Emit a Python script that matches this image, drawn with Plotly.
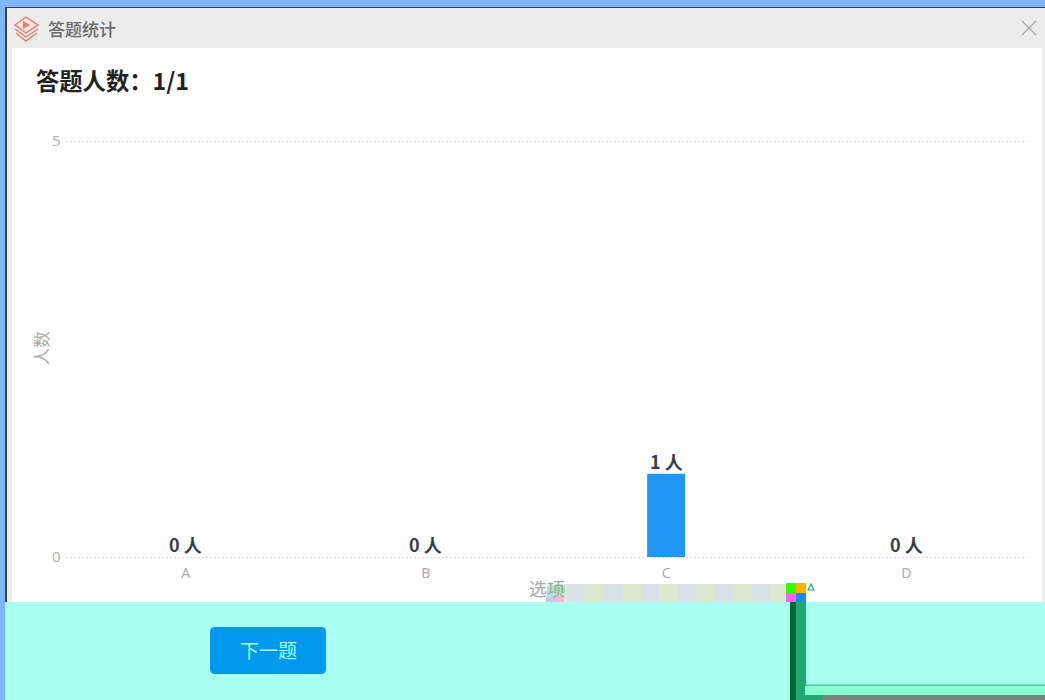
import plotly.graph_objects as go

categories = ["A", "B", "C", "D"]
counts = [0, 0, 1, 0]
y_ticks = [0, 5]
title_text = "答题统计"
heading_text = "答题人数:1/1".replace(":", "：")
y_title = "人数"
button_text = "下一题"
glitch_label = "选项"

W, H = 1045, 700
FONT = "Noto Sans CJK SC"
Y_PAD = 0.03  # keeps the gridlines at 0 and 5 inside the axis range


def X(px):
    return px / W


def Y(px):
    return 1 - px / H


def rect(x0, y0, x1, y1, color, layer="below"):
    return dict(type="rect", xref="paper", yref="paper", x0=X(x0), x1=X(x1),
                y0=Y(y0), y1=Y(y1), fillcolor=color, line_width=0, layer=layer)


def path(points, color=None, stroke=None, width=1.3, close=True):
    d = "M " + " L ".join(f"{X(a):.5f},{Y(b):.5f}" for a, b in points) + (" Z" if close else "")
    return dict(type="path", xref="paper", yref="paper", path=d,
                fillcolor=color if color else "rgba(0,0,0,0)",
                line=dict(color=stroke if stroke else "rgba(0,0,0,0)", width=width),
                layer="above")


CYAN = "#A8FFF2"
shapes = [
    rect(0, 0, 1045, 700, "#7FB5FF"),
    rect(5, 7, 1045, 602, "#3A3F46"),
    rect(7, 8, 1045, 602, "#ECECEC"),
    rect(12, 48, 1042, 602, "#FFFFFF"),
    rect(5, 602, 1045, 700, CYAN),
]

# glitched strip beneath the axis
shapes.append(rect(548, 584, 786, 602, "#E4EBDC", layer="above"))
x = 567
flip = True
while x < 786:
    shapes.append(rect(x, 584, min(x + 18.5, 786), 602, "#D6E2E8" if flip else "#DDE8CE", layer="above"))
    x += 18.5
    flip = not flip
shapes += [
    rect(547, 586, 556, 598, "#A8E8D8", layer="above"),
    rect(556, 586, 565, 594, "#9CE8B0", layer="above"),
    rect(546, 597, 556, 602, "#C0C8F0", layer="above"),
    rect(556, 595, 564, 602, "#F6B8D0", layer="above"),
    rect(786, 583, 796, 593, "#33FF00", layer="above"),
    rect(796, 583, 806, 593, "#FFB000", layer="above"),
    rect(786, 593, 796, 602, "#FF66EE", layer="above"),
    rect(796, 593, 806, 602, "#1E88E8", layer="above"),
    rect(790, 602, 796, 700, "#006A30", layer="above"),
    rect(796, 602, 806, 700, "#20A870", layer="above"),
    rect(806, 684.5, 1045, 686, "#4CC9A0", layer="above"),
    rect(805, 686, 1045, 695, "#8AFFD2", layer="above"),
    rect(805, 695, 823, 700, "#20A870", layer="above"),
    rect(823, 695, 1045, 700, "#808080", layer="above"),
    path([(811, 584), (814, 590), (808, 590)], None, "#20A870", 1.2),
]

# next-question button
bx0, by0, bx1, by1, r = 210, 627, 326, 674, 5
shapes.append(dict(
    type="path", xref="paper", yref="paper", layer="above", line_width=0, fillcolor="#0099EE",
    path=(f"M {X(bx0+r)},{Y(by0)} L {X(bx1-r)},{Y(by0)} Q {X(bx1)},{Y(by0)} {X(bx1)},{Y(by0+r)} "
          f"L {X(bx1)},{Y(by1-r)} Q {X(bx1)},{Y(by1)} {X(bx1-r)},{Y(by1)} "
          f"L {X(bx0+r)},{Y(by1)} Q {X(bx0)},{Y(by1)} {X(bx0)},{Y(by1-r)} "
          f"L {X(bx0)},{Y(by0+r)} Q {X(bx0)},{Y(by0)} {X(bx0+r)},{Y(by0)} Z"),
))

# title-bar icon and close cross
ICON = "#E8776C"
shapes += [
    path([(26, 17), (38, 25), (26, 33), (15, 25)], "#FBE3DF", ICON, 1.4),
    path([(23, 21), (30, 25), (23, 29)], ICON),
    path([(15, 29), (26, 37), (38, 29)], None, ICON, 1.4, close=False),
    path([(16, 33), (26, 41), (37, 33)], None, ICON, 1.4, close=False),
    path([(1022, 21), (1036, 35)], None, "#A8A8A8", 1.2, close=False),
    path([(1036, 21), (1022, 35)], None, "#A8A8A8", 1.2, close=False),
]


def label(px, py, text, size, color, weight=400, anchor="left"):
    return dict(xref="paper", yref="paper", x=X(px), y=Y(py), text=text, showarrow=False,
                xanchor=anchor, yanchor="middle", borderpad=0, xshift=-1,
                font=dict(family=FONT, size=size, color=color, weight=weight))


annotations = [
    label(48, 28, title_text, 17, "#6A6A6A", 500),
    label(36, 80, heading_text, 23.3, "#222222", 700),
    label(269, 649.5, button_text, 19, CYAN, 400, "center"),
    label(529, 588, glitch_label, 18, "#A8A8A8", 400),
    dict(label(41, 348, y_title, 17, "#ABABAB", 400, "center"), textangle=-90),
]
for cat, val in zip(categories, counts):
    annotations.append(dict(
        xref="x", yref="y", x=cat, y=val, text=f"<b>{val} 人</b>", showarrow=False,
        yanchor="middle", yshift=13, borderpad=0,
        font=dict(family=FONT, size=18, color="#333F48"),
    ))

fig = go.Figure(go.Bar(
    x=categories, y=counts, width=0.158, marker=dict(color="#2196F3", line_width=0),
    cliponaxis=False, hoverinfo="skip",
))
fig.update_layout(
    width=W, height=H, margin=dict(l=0, r=0, t=0, b=0, pad=0), autosize=False,
    paper_bgcolor="#FFFFFF", plot_bgcolor="rgba(0,0,0,0)", showlegend=False,
    font=dict(family=FONT), shapes=shapes, annotations=annotations,
    xaxis=dict(domain=[X(65.5), X(1026.5)], range=[-0.5, 3.5], type="category", automargin=False,
               showgrid=False, showline=False, zeroline=False, ticks="",
               tickfont=dict(size=14, color="#ABABAB", family="Noto Sans"), ticklabelstandoff=3),
    yaxis=dict(domain=[Y(559.5), Y(138.5)], range=[-Y_PAD, 5 + Y_PAD], tickvals=y_ticks, automargin=False,
               showgrid=True, gridcolor="#D8D8D8", griddash="2px,2px", gridwidth=1,
               zeroline=False, showline=False, ticks="",
               tickfont=dict(size=15, color="#B4B4B4", family="Noto Sans"), ticklabelstandoff=4),
)
fig.write_html("out.html", config={"displayModeBar": False},
               post_script="document.body.style.margin='0';document.body.style.overflow='hidden';")
